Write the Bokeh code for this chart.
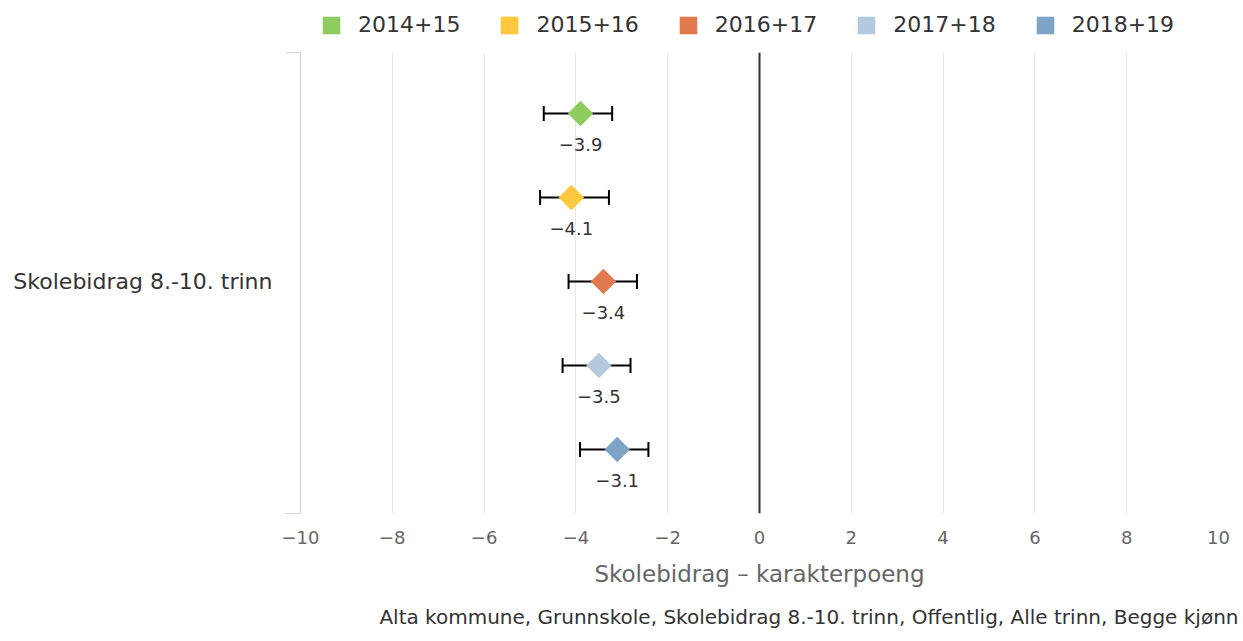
import math
from bokeh.plotting import figure
from bokeh.layouts import column
from bokeh.models import (Range1d, FixedTicker, Span, Legend, LegendItem, Title)
from bokeh.core.properties import value
from bokeh.embed import file_html
from bokeh.resources import INLINE

# ---- data ----
series = ["2014+15", "2015+16", "2016+17", "2017+18", "2018+19"]
values = [-3.9, -4.1, -3.4, -3.5, -3.1]
lower = [-4.70, -4.78, -4.16, -4.29, -3.91]
upper = [-3.21, -3.28, -2.67, -2.81, -2.42]
colors = ["#8fcc60", "#fec73c", "#e07a4e", "#b3c9de", "#7ea3c7"]
category = "Skolebidrag 8.-10. trinn"
x_ticks = [-10, -8, -6, -4, -2, 0, 2, 4, 6, 8, 10]
x_title = "Skolebidrag \u2013 karakterpoeng"
footer = "Alta kommune, Grunnskole, Skolebidrag 8.-10. trinn, Offentlig, Alle trinn, Begge kj\u00f8nn"

FONT = "DejaVu Sans"
slots = [4, 3, 2, 1, 0]  # vertical slot of each series inside the category
Y0, Y1 = -0.762, 4.726
CAT_Y = 2

W = 1243
LEG_H = 50

# ---------- legend strip (its frame aligns with the chart frame) ----------
lf = figure(width=W, height=LEG_H, output_backend="svg", toolbar_location=None,
            x_axis_type=None, y_axis_type=None, x_range=Range1d(0, 1), y_range=Range1d(0, 1),
            min_border_left=0, min_border_right=0, min_border_top=0, min_border_bottom=0)
lf.outline_line_color = None
lf.grid.grid_line_color = None
items = []
for i, s in enumerate(series):
    # zero-size proxy (lies outside this strip's range) that carries the series colour
    r = lf.quad(left=[values[i]], right=[values[i]], top=[0], bottom=[0],
                fill_color=colors[i], line_color=None)
    items.append(LegendItem(label=s, renderers=[r]))
legend = Legend(items=items, orientation="horizontal", location=(20, 13),
                glyph_width=22, glyph_height=22, label_standoff=16, spacing=38,
                padding=0, margin=0, border_line_color=None, background_fill_alpha=0,
                label_text_font=FONT, label_text_font_size="22px",
                label_text_color="#333333", label_text_baseline="middle")
lf.add_layout(legend, "center")

# ---------- main chart ----------
p = figure(width=W, height=641 - LEG_H, output_backend="svg", toolbar_location=None,
           x_range=Range1d(-10, 10), y_range=Range1d(Y0, Y1),
           min_border_left=300, min_border_right=25, min_border_top=2,
           min_border_bottom=128)
p.outline_line_color = None
p.background_fill_color = "white"
p.border_fill_color = "white"

# x axis
xa = p.xaxis[0]
xa.ticker = FixedTicker(ticks=x_ticks)
xa.major_label_overrides = {t: (str(t).replace("-", "\u2212")) for t in x_ticks}
xa.axis_line_color = None
xa.major_tick_line_color = None
xa.minor_tick_line_color = None
xa.major_tick_out = 0
xa.major_tick_in = 0
xa.major_label_standoff = 17
xa.major_label_text_font = FONT
xa.major_label_text_font_size = "18px"
xa.major_label_text_color = "#666666"
xa.axis_label = x_title
xa.axis_label_text_font = FONT
xa.axis_label_text_font_size = "23px"
xa.axis_label_text_font_style = "normal"
xa.axis_label_text_color = "#666666"
xa.axis_label_standoff = 14

# y axis: category label + bracket line
ya = p.yaxis[0]
ya.ticker = FixedTicker(ticks=[CAT_Y], minor_ticks=[Y0, Y1])
ya.major_label_overrides = {CAT_Y: category}
ya.axis_line_color = "#ccd6eb"
ya.major_tick_line_color = None
ya.major_tick_out = 0
ya.major_tick_in = 0
ya.minor_tick_line_color = "#ccd6eb"
ya.minor_tick_out = 15
ya.minor_tick_in = 0
ya.major_label_standoff = 13
ya.major_label_orientation = "horizontal"
ya.major_label_text_font = FONT
ya.major_label_text_font_size = "22px"
ya.major_label_text_color = "#333333"

p.xgrid.grid_line_color = "#e6e6e6"
p.xgrid.grid_line_width = 1
p.ygrid.grid_line_color = None

p.add_layout(Span(location=0, dimension="height", line_color="#333333", line_width=2))

ys = slots
# error bars
p.segment(x0=lower, y0=ys, x1=upper, y1=ys, line_color="black", line_width=2)
p.scatter(x=lower + upper, y=ys + ys, marker="dash", angle=math.pi / 2, size=15,
          line_color="black", line_width=2)

# diamonds
for i in range(len(series)):
    p.scatter(x=[values[i]], y=[ys[i]], marker="square", angle=math.pi / 4, size=18,
              fill_color=colors[i], line_color=None)

# data labels
p.text(x=values, y=ys, text=[f"{v:.1f}".replace("-", "\u2212") for v in values],
       y_offset=31, text_align="center", text_baseline="middle",
       text_font=value(FONT), text_font_size="18px", text_color="#333333")

# footer
p.add_layout(Title(text=footer, align="right", standoff=26, offset=-20, text_font=FONT,
                   text_font_size="20px", text_font_style="normal",
                   text_color="#333333"), "below")

open("out.html", "w").write(file_html(column(lf, p, spacing=0), INLINE))
